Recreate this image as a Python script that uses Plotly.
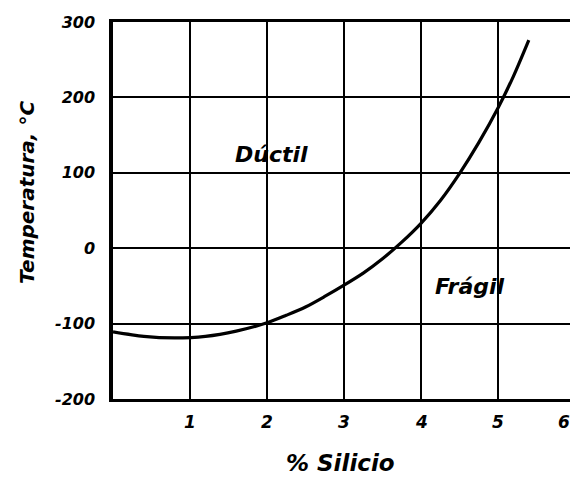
import plotly.graph_objects as go

silicio = [0.0, 0.4, 0.8, 1.2, 1.6, 2.0, 2.25, 2.5, 2.75, 3.0, 3.25, 3.5, 3.75, 4.0, 4.25, 4.5, 4.75, 5.0, 5.2, 5.4]
temperatura = [-111, -117, -119, -117, -110, -99, -89, -78, -64, -49, -33, -14, 8, 33, 63, 99, 140, 186, 228, 276]

x_ticks = [1, 2, 3, 4, 5, 6]
y_ticks = [-200, -100, 0, 100, 200, 300]
region_labels = ["Dúctil", "Frágil"]
region_x = [2.06, 4.64]
region_y = [124, -51]

FONT = "DejaVu Sans"
L, R, T, B = 113, 0, 22, 82
W, H = 570, 481

fig = go.Figure()
fig.add_trace(go.Scatter(
    x=silicio, y=temperatura, mode="lines",
    line=dict(color="black", width=3.2, shape="spline", smoothing=0.8),
    showlegend=False, hoverinfo="skip",
))

for t, xx, yy in zip(region_labels, region_x, region_y):
    fig.add_annotation(x=xx, y=yy, text=f"<b><i>{t}</i></b>", showarrow=False,
                       font=dict(family=FONT, size=22, color="black"))

pw = W - L - R
ph = H - T - B
xmax = 5.935
for v in x_ticks:
    px = v / xmax
    if v == 6:
        px = (564 - L) / pw
    fig.add_annotation(x=px, xref="paper", y=-23 / ph, yref="paper",
                       text=f"<b><i>{v}</i></b>", showarrow=False,
                       font=dict(family=FONT, size=17, color="black"),
                       xanchor="center", yanchor="middle")

fig.add_annotation(x=(340 - L) / pw, xref="paper", y=-(463 - (H - B)) / ph, yref="paper",
                   text="<b><i>% Silicio</i></b>", showarrow=False,
                   font=dict(family=FONT, size=23, color="black"),
                   xanchor="center", yanchor="middle")
fig.add_annotation(x=-(L - 27) / pw, xref="paper", y=((H - B) - 193) / ph, yref="paper",
                   text="<b><i>Temperatura, °C</i></b>", showarrow=False, textangle=-90,
                   font=dict(family=FONT, size=20, color="black"),
                   xanchor="center", yanchor="middle")

fig.update_layout(
    width=W, height=H,
    margin=dict(l=L, r=R, t=T, b=B, autoexpand=False),
    plot_bgcolor="white", paper_bgcolor="white",
    font=dict(family=FONT, color="black"),
    xaxis=dict(
        range=[0, xmax], tickvals=x_ticks[:-1], showticklabels=False, ticks="",
        showgrid=True, gridcolor="black", gridwidth=1.6,
        showline=True, linecolor="black", linewidth=3, mirror=True,
        zeroline=False, automargin=False,
    ),
    yaxis=dict(
        range=[-200, 300], tickvals=y_ticks,
        ticktext=[f"<b><i>{v}</i></b>" for v in y_ticks],
        tickfont=dict(size=16), ticks="", ticklabelstandoff=11,
        showgrid=True, gridcolor="black", gridwidth=1.6,
        showline=True, linecolor="black", linewidth=3.5,
        zeroline=False, automargin=False,
    ),
)

fig.write_html("out.html", config={"displayModeBar": False},
               post_script="document.body.style.margin='0px';document.body.style.overflow='hidden';")
